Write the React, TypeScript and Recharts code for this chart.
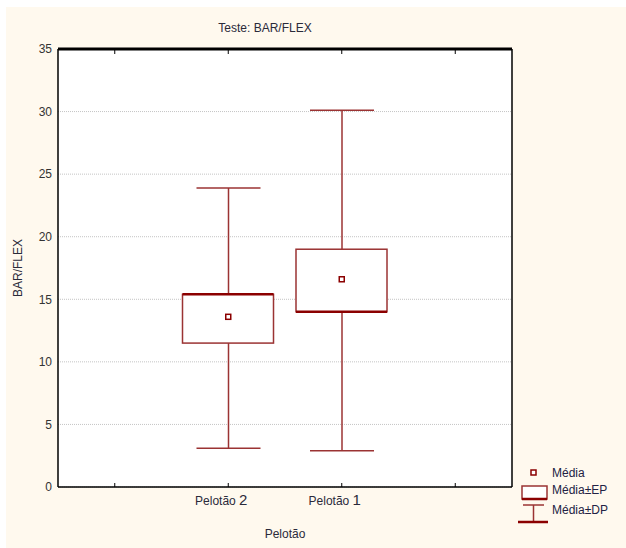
import React from 'react'
import { ComposedChart, Bar, Line, XAxis, YAxis, CartesianGrid } from 'recharts'

// valores (Teste: BAR/FLEX)
const categories = ['Pelotão 2', 'Pelotão 1']
const media = [13.6, 16.6]
const epLow = [11.5, 14.0]
const epHigh = [15.4, 19.0]
const dpLow = [3.1, 2.9]
const dpHigh = [23.9, 30.1]
const yTicks = [0, 5, 10, 15, 20, 25, 30, 35]

const RED = '#9b3333'
const DARK = '#8b0000'
const FONT = '"Liberation Sans", Arial, sans-serif'

// dois slots vazios nas pontas, como no gráfico original
const data = [
  { name: '', mean: null, ep: null, dp: null },
  ...categories.map((c, i) => ({
    name: c,
    mean: media[i],
    ep: [epLow[i], epHigh[i]],
    dp: [dpLow[i], dpHigh[i]],
  })),
  { name: ' ', mean: null, ep: null, dp: null },
]

const BoxShape = (props: any) => {
  const { x, y, width, height, payload } = props
  if (height == null || isNaN(height)) return null
  // a borda mais grossa fica no topo no Pelotão 2 e embaixo no Pelotão 1
  const thickY = payload && payload.name === categories[0] ? y : y + height
  return (
    <g>
      <rect x={x} y={y} width={width} height={height} fill="#fff" stroke={RED} strokeWidth={1.5} />
      <line x1={x} x2={x + width} y1={thickY} y2={thickY} stroke={DARK} strokeWidth={2.5} />
    </g>
  )
}

const WhiskerShape = (props: any) => {
  const { x, y, width, height } = props
  if (height == null || isNaN(height)) return null
  const cx = x + width / 2
  return (
    <g stroke={RED} strokeWidth={1.5}>
      <line x1={cx} x2={cx} y1={y} y2={y + height} />
      <line x1={x} x2={x + width} y1={y} y2={y} />
      <line x1={x} x2={x + width} y1={y + height} y2={y + height} />
    </g>
  )
}

const MeanDot = (props: any) => {
  const { cx, cy, index } = props
  if (cy == null || isNaN(cy)) return <g key={index} />
  return <rect key={index} x={cx - 2.5} y={cy - 2.5} width={5} height={5} fill="#fff" stroke={DARK} strokeWidth={1.5} />
}

const CatTick = (props: any) => {
  const { x, y, payload } = props
  const label = String(payload.value).trim()
  if (!label) return null
  const parts = label.split(' ')
  return (
    <text x={x - 7} y={y} dy={10} textAnchor="middle" fontFamily={FONT} fontSize={12} fill="#2a2a3a">
      <tspan>{parts[0]} </tspan>
      <tspan fontSize={15}>{parts[1]}</tspan>
    </text>
  )
}

const Legenda = () => (
  <svg width={110} height={70} style={{ position: 'absolute', left: 516, top: 462 }}>
    <g fontFamily={FONT} fontSize={12} fill="#222244">
      <rect x={15} y={8} width={5} height={5} fill="#fff" stroke={DARK} strokeWidth={1.5} />
      <text x={36} y={15}>Média</text>
      <rect x={6} y={24} width={25} height={13} fill="#fff" stroke={RED} strokeWidth={1.5} />
      <line x1={6} x2={31} y1={37} y2={37} stroke={DARK} strokeWidth={2.5} />
      <text x={36} y={32}>Média±EP</text>
      <g stroke={RED} strokeWidth={1.5}>
        <line x1={7} x2={28} y1={43} y2={43} />
        <line x1={17.5} x2={17.5} y1={43} y2={60} />
      </g>
      <line x1={2} x2={32} y1={60} y2={60} stroke={DARK} strokeWidth={2.5} />
      <text x={36} y={52}>Média±DP</text>
    </g>
  </svg>
)

export default function App() {
  return (
    <div style={{ position: 'absolute', left: 0, top: 0, width: 626, height: 548, background: '#fff' }}>
      <div style={{ position: 'absolute', left: 6, top: 7, right: 0, bottom: 0, background: '#fff9ee' }} />
      <div style={{ position: 'absolute', left: 0, top: 0 }}>
        <ComposedChart width={626} height={548} data={data} margin={{ top: 48, right: 113, bottom: 31, left: 8 }}>
          <CartesianGrid vertical={false} fill="#fff" stroke="#c4c4c4" strokeDasharray="1 1" />
          <XAxis xAxisId="dp" dataKey="name" height={0} hide />
          <XAxis
            xAxisId="ep"
            dataKey="name"
            height={30}
            axisLine={{ stroke: '#000', strokeWidth: 1.5 }}
            tickLine={{ stroke: '#000' }}
            tickSize={-4}
            tickMargin={12}
            tick={<CatTick />}
            label={{
              content: () => (
                <text x={285} y={538} textAnchor="middle" fontFamily={FONT} fontSize={12} fill="#2a2a3a">
                  Pelotão
                </text>
              ),
            }}
          />
          <XAxis
            xAxisId="top"
            dataKey="name"
            orientation="top"
            height={1}
            axisLine={{ stroke: '#000', strokeWidth: 3 }}
            tickLine={{ stroke: '#000' }}
            tickSize={-5}
            tick={() => <g />}
            label={{
              content: () => (
                <text x={265} y={32} textAnchor="middle" fontFamily={FONT} fontSize={12} fill="#2a2a3a">
                  Teste: BAR/FLEX
                </text>
              ),
            }}
          />
          <YAxis
            domain={[0, 35]}
            ticks={yTicks}
            width={50}
            axisLine={{ stroke: '#000', strokeWidth: 1.5 }}
            tickLine={false}
            tickSize={0}
            tickMargin={6}
            tick={{ fontFamily: FONT, fontSize: 12, fill: '#333' }}
            label={{
              content: () => (
                <text
                  x={22}
                  y={268}
                  transform="rotate(-90 22 268)"
                  textAnchor="middle"
                  fontFamily={FONT}
                  fontSize={12}
                  fill="#2a2a3a"
                >
                  BAR/FLEX
                </text>
              ),
            }}
          />
          <YAxis
            yAxisId="r"
            orientation="right"
            domain={[0, 35]}
            width={1}
            axisLine={{ stroke: '#000', strokeWidth: 1.5 }}
            tickLine={false}
            tick={false}
          />
          <Bar xAxisId="dp" dataKey="dp" barSize={64} shape={<WhiskerShape />} isAnimationActive={false} />
          <Bar xAxisId="ep" dataKey="ep" barSize={91} shape={<BoxShape />} isAnimationActive={false} />
          <Line
            xAxisId="ep"
            dataKey="mean"
            stroke="none"
            dot={MeanDot}
            activeDot={false}
            isAnimationActive={false}
          />
          {/* série invisível só para ancorar os eixos de moldura (topo e direita) */}
          <Line
            xAxisId="top"
            yAxisId="r"
            dataKey="mean"
            stroke="none"
            dot={false}
            activeDot={false}
            isAnimationActive={false}
          />
        </ComposedChart>
      </div>
      <Legenda />
    </div>
  )
}
